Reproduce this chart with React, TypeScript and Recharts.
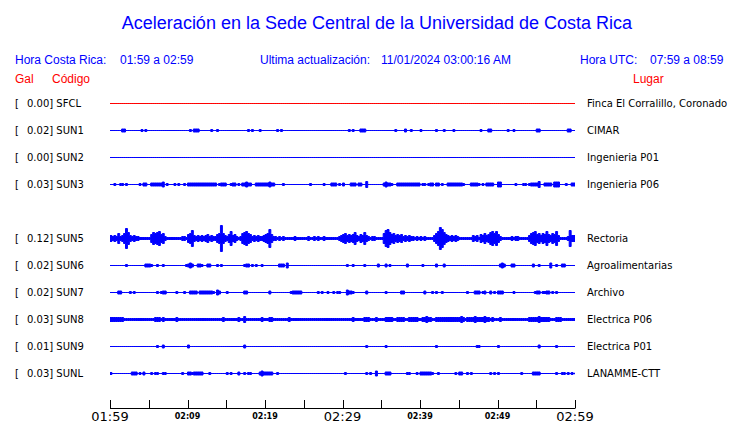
import { ComposedChart, Area, XAxis, YAxis } from "recharts";

// stations, top to bottom (row 4 is empty: SUN4 not reporting)
const CODES = ["SFCL", "SUN1", "SUN2", "SUN3", "SUN5", "SUN6", "SUN7", "SUN8", "SUN9", "SUNL"];
const PEAK_GAL = ["0.00", "0.02", "0.00", "0.03", "0.12", "0.02", "0.02", "0.03", "0.01", "0.03"];
const PLACES = [
  "Finca El Corralillo, Coronado",
  "CIMAR",
  "Ingenieria P01",
  "Ingenieria P06",
  "Rectoria",
  "Agroalimentarias",
  "Archivo",
  "Electrica P06",
  "Electrica P01",
  "LANAMME-CTT",
];
const ROWS = [0, 1, 2, 3, 5, 6, 7, 8, 9, 10];
const TRACE_COLORS = ["#ff0000", "#0000ff", "#0000ff", "#0000ff", "#0000ff", "#0000ff", "#0000ff", "#0000ff", "#0000ff", "#0000ff"];
// continuous noise floor per station (counts)
const NOISE_FLOOR = [0, 0, 0, 0, 1, 0, 0, 1, 0, 0];

const TICK_MINUTES = [0, 5, 10, 15, 20, 25, 30, 35, 40, 45, 50, 55, 60];
const TICK_LABELS = ["01:59", "", "02:09", "", "02:19", "", "02:29", "", "02:39", "", "02:49", "", "02:59"];
const MAJOR_TICKS = [0, 30, 60];

const SAMPLE_STEP = 0.25; // minutes per sample
const COUNTS_PER_ROW = 27;

// Rectoria: half-envelope per 15 s sample (counts)
const SUN5_ENVELOPE = [
  3, 2, 3, 2, 5, 2, 3, 5, 10, 6, 3, 2, 3, 2, 2, 1, 1, 1, 1, 1,
  1, 4, 6, 5, 6, 7, 4, 5, 2, 1, 1, 1, 1, 1, 1, 1, 1, 2, 2, 1,
  4, 5, 8, 3, 2, 3, 2, 3, 2, 3, 4, 2, 3, 2, 2, 4, 5, 13, 5, 3,
  2, 4, 7, 3, 4, 2, 1, 2, 5, 6, 7, 5, 4, 2, 3, 2, 3, 2, 2, 3,
  4, 5, 9, 4, 2, 2, 1, 2, 1, 2, 1, 1, 1, 1, 1, 2, 1, 1, 1, 1,
  1, 1, 2, 1, 1, 2, 1, 2, 1, 1, 2, 1, 1, 1, 1, 1, 1, 1, 2, 3,
  4, 5, 3, 4, 3, 4, 6, 3, 2, 4, 3, 6, 3, 2, 1, 2, 2, 1, 1, 1,
  1, 5, 8, 9, 6, 4, 5, 3, 4, 3, 4, 2, 3, 2, 3, 2, 2, 1, 2, 1,
  2, 1, 2, 1, 1, 1, 1, 3, 5, 7, 11, 9, 6, 4, 3, 2, 3, 2, 3, 2,
  1, 1, 1, 1, 1, 1, 1, 3, 2, 3, 1, 4, 3, 5, 3, 4, 6, 7, 5, 7,
  4, 2, 1, 1, 1, 1, 1, 2, 1, 2, 2, 1, 1, 1, 1, 1, 3, 5, 6, 7,
  4, 5, 3, 5, 4, 7, 4, 3, 5, 4, 7, 3, 1, 1, 1, 1, 2, 8, 3, 3,
  3,
];

// sparse events: [start min, end min, half amplitude counts]
const SUN1_EVENTS = [
  [1.6, 1.9, 1.5], [4.2, 4.2, 1], [4.6, 4.6, 1], [10.3, 10.3, 1], [10.8, 11.3, 1.5], [13.0, 13.0, 1],
  [13.8, 13.8, 1], [17.8, 17.8, 1], [18.3, 18.3, 1], [19.4, 19.4, 1], [21.7, 21.7, 1], [22.1, 22.1, 1],
  [30.8, 30.8, 1], [31.3, 31.3, 1], [32.3, 32.9, 1.5], [36.9, 36.9, 1], [38.0, 38.2, 1.5], [38.9, 38.9, 1],
  [40.0, 40.0, 1], [42.2, 42.2, 1], [43.1, 43.1, 1], [44.3, 44.3, 1], [47.8, 47.8, 1], [48.9, 49.1, 1.5],
  [51.3, 51.3, 1], [52.2, 52.2, 1], [55.2, 55.4, 1.5], [59.0, 59.3, 1.5],
];
const SUN3_EVENTS = [
  [0.55, 0.55, 1], [1.3, 1.3, 1], [1.7, 1.7, 1], [2.15, 2.15, 1], [3.8, 3.8, 1], [4.4, 4.7, 1.5],
  [5.4, 6.7, 1.5], [6.75, 6.75, 2.5], [7.3, 7.3, 1], [8.3, 8.3, 1], [8.8, 8.8, 1], [9.6, 9.6, 1],
  [10.0, 10.6, 1.5], [10.8, 11.5, 1.5], [11.8, 13.5, 1.5], [14.0, 14.0, 1], [14.4, 14.8, 1.5], [15.5, 15.5, 1],
  [15.8, 16.2, 1.5], [16.5, 16.5, 1], [17.2, 18.1, 1.5], [17.6, 17.6, 2.5], [18.9, 19.35, 1.5], [19.65, 21.05, 1.5],
  [20.5, 20.5, 2.5], [22.4, 22.4, 1], [25.8, 25.8, 1], [27.5, 27.5, 1], [28.7, 29.1, 1.5], [29.6, 29.6, 1],
  [30.0, 30.2, 1.5], [31.0, 31.5, 1.5], [32.0, 32.3, 1.5], [33.0, 33.0, 3], [35.3, 36.2, 1.5], [35.7, 35.7, 2.5],
  [36.4, 36.4, 1], [37.0, 38.9, 1.5], [39.2, 39.8, 1.5], [40.3, 40.3, 1], [40.7, 40.7, 1], [41.0, 41.0, 1],
  [41.4, 41.6, 1.5], [42.0, 42.4, 1.5], [42.8, 42.8, 1], [43.7, 45.4, 1.5], [45.7, 45.7, 1], [46.65, 47.3, 1.5],
  [47.6, 47.6, 1], [48.0, 48.0, 1], [48.5, 49.45, 1.5], [50.0, 50.45, 2.5], [52.25, 52.25, 1], [53.3, 53.3, 1],
  [53.6, 53.6, 1], [54.0, 54.0, 1], [54.3, 55.1, 1.5], [55.25, 55.25, 3], [56.0, 56.75, 1.5], [57.3, 57.8, 2.5],
  [58.9, 58.9, 1], [59.7, 60, 1.5],
];
const SUN6_EVENTS = [
  [2.0, 2.0, 1], [4.6, 5.0, 1.5], [5.4, 5.4, 1], [6.1, 6.1, 1], [6.75, 6.75, 1], [9.75, 9.75, 1],
  [10.1, 10.5, 1.5], [10.3, 10.3, 2.5], [11.3, 11.6, 1.5], [11.8, 11.8, 1], [12.6, 12.9, 1.5], [13.9, 13.9, 1],
  [14.4, 14.4, 1], [17.3, 17.3, 1], [17.6, 17.9, 1.5], [18.3, 18.3, 1], [18.8, 18.8, 1], [19.65, 19.65, 1],
  [21.9, 22.3, 1.5], [22.8, 22.8, 2.5], [30.5, 30.5, 1], [31.4, 31.4, 1], [32.9, 32.9, 1], [34.5, 34.5, 1.5],
  [35.6, 35.6, 1.5], [36.0, 36.0, 1], [38.4, 38.4, 1.5], [40.3, 40.3, 1], [42.1, 42.1, 1.5], [43.0, 43.0, 1.5],
  [50.4, 50.9, 1.5], [50.6, 50.6, 2.5], [51.8, 52.0, 1.5], [54.7, 54.7, 1.5], [55.25, 55.25, 1], [56.75, 56.75, 2.5],
  [57.7, 57.7, 1], [58.3, 58.5, 1.5],
];
const SUN7_EVENTS = [
  [1.07, 1.37, 1.5], [2.6, 2.6, 1], [3.0, 3.0, 1], [6.1, 6.1, 1], [6.5, 6.5, 1], [6.75, 7.2, 1.5],
  [8.5, 8.5, 1], [9.5, 9.5, 1], [10.3, 10.5, 1.5], [10.9, 11.2, 1.5], [11.5, 13.1, 1.5], [13.3, 13.3, 1],
  [13.75, 14.1, 1.5], [13.9, 13.9, 2.5], [15.2, 15.2, 1], [17.3, 17.6, 1.5], [20.6, 20.6, 1.5], [23.3, 23.3, 1],
  [23.7, 23.95, 1.5], [24.2, 24.5, 1.5], [24.7, 24.7, 1], [26.75, 26.75, 1], [27.3, 27.3, 1], [28.2, 28.2, 1],
  [28.85, 28.85, 1], [29.4, 29.4, 1], [29.7, 29.7, 1], [30.5, 31.0, 1.5], [30.7, 30.7, 2.5], [31.4, 31.4, 1],
  [33.0, 33.15, 1.5], [35.7, 35.7, 1], [37.5, 37.8, 1.5], [40.5, 40.5, 1.5], [41.7, 41.7, 1], [42.2, 42.2, 1],
  [42.9, 42.9, 1], [46.0, 46.0, 1], [47.1, 47.5, 1.5], [48.0, 48.0, 1], [48.4, 48.4, 1.5], [49.0, 49.0, 1.5],
  [49.6, 49.6, 1], [50.2, 50.5, 1.5], [52.2, 52.2, 1], [54.8, 54.8, 1], [55.1, 55.4, 1.5], [55.8, 55.8, 1],
  [56.2, 56.2, 1], [56.4, 56.7, 1.5], [57.05, 57.05, 1], [57.65, 57.65, 1],
];
const SUN8_EVENTS = [
  [0, 1.5, 2], [5.8, 6.45, 2], [6.75, 6.75, 2], [8.5, 8.5, 2], [14.5, 14.5, 2], [16.5, 16.5, 2],
  [17.3, 17.3, 3], [19.5, 19.5, 2], [20.5, 20.85, 2], [23.2, 23.2, 2], [31.4, 31.4, 2], [32.9, 33.3, 2],
  [34.4, 34.4, 2], [35.5, 36.3, 2], [37.0, 37.8, 2], [38.6, 39.6, 2], [40.4, 41.3, 2], [40.8, 40.8, 3],
  [42.1, 43.6, 2], [43.85, 45.6, 2], [45.3, 45.3, 3], [46.2, 48.8, 2], [47.0, 47.0, 3], [48.3, 48.3, 3],
  [49.25, 49.25, 2], [50.3, 50.3, 2], [54.0, 55.5, 2], [55.25, 55.25, 3], [55.9, 56.55, 2], [57.6, 58.05, 2],
];
const SUN9_EVENTS = [
  [6.2, 6.2, 1], [6.75, 6.75, 1.5], [10.1, 10.1, 1.5], [17.3, 17.3, 1.5], [33.0, 33.0, 1], [35.7, 35.7, 1],
  [42.2, 42.2, 1], [47.3, 47.5, 1], [50.2, 50.2, 1], [55.25, 55.25, 1.5], [57.7, 57.7, 1],
];
const SUNL_EVENTS = [
  [0.2, 0.2, 1], [2.9, 3.3, 1.5], [3.85, 3.85, 1], [4.4, 4.4, 1.5], [5.3, 5.3, 1], [5.8, 5.8, 1],
  [6.2, 6.2, 1], [6.75, 6.75, 1], [7.2, 7.2, 1], [9.3, 9.3, 1], [10.1, 10.3, 1.5], [10.6, 10.7, 1],
  [10.9, 11.8, 1.5], [12.9, 12.9, 1], [15.1, 15.1, 1], [15.7, 15.7, 1], [16.5, 16.5, 1.5], [17.3, 17.3, 1],
  [17.75, 17.75, 1], [18.1, 18.1, 1], [19.35, 20.0, 1.5], [19.6, 19.6, 2.5], [20.4, 20.8, 1.5], [21.6, 21.6, 1],
  [30.4, 30.4, 1], [33.1, 33.1, 1], [33.6, 33.6, 1], [34.4, 34.4, 2.5], [35.7, 36.1, 1.5], [38.3, 38.6, 1],
  [39.5, 39.5, 1], [40.2, 41.3, 1.5], [41.7, 41.7, 1], [42.35, 42.35, 1], [44.7, 44.7, 1], [45.1, 45.45, 1.5],
  [46.0, 46.0, 1], [46.6, 46.6, 1], [49.0, 49.0, 1], [49.7, 49.7, 1], [50.2, 50.2, 1], [53.1, 53.1, 1],
  [54.6, 55.25, 1.5], [57.6, 57.6, 1], [58.3, 58.3, 1], [58.7, 58.7, 1], [59.15, 59.15, 1], [59.55, 59.55, 1],
  [60, 60, 1],
];

const EVENTS: Record<string, number[][]> = {
  SFCL: [],
  SUN1: SUN1_EVENTS,
  SUN2: [],
  SUN3: SUN3_EVENTS,
  SUN6: SUN6_EVENTS,
  SUN7: SUN7_EVENTS,
  SUN8: SUN8_EVENTS,
  SUN9: SUN9_EVENTS,
  SUNL: SUNL_EVENTS,
};

const N = SUN5_ENVELOPE.length;

function envelope(code: string, floor: number) {
  if (code === "SUN5") return SUN5_ENVELOPE;
  const amps = new Array(N).fill(floor);
  for (const [s, e, a] of EVENTS[code]) {
    const last = Math.min(N - 1, Math.floor(e / SAMPLE_STEP));
    for (let i = Math.floor(s / SAMPLE_STEP); i <= last; i++) amps[i] = Math.max(amps[i], a);
  }
  return amps;
}

const envelopes = CODES.map((c, k) => envelope(c, NOISE_FLOOR[k]));

const data = SUN5_ENVELOPE.map((_, i) => {
  const row: Record<string, any> = { t: i * SAMPLE_STEP };
  CODES.forEach((c, k) => {
    const a = envelopes[k][i] / COUNTS_PER_ROW;
    row[c] = [ROWS[k] - a, ROWS[k] + a];
  });
  return row;
});

const BLUE = "#0000ff";
const RED = "#ff0000";
const SANS = "'Liberation Sans', Arial, sans-serif";
const DEJAVU = "'DejaVu Sans', sans-serif";

function RowLabel(props: any) {
  const { y, payload } = props;
  const k = ROWS.indexOf(payload.value);
  if (k < 0) return null;
  return (
    <g fontFamily={DEJAVU} fontSize={10} fill="#000">
      <text x={15} y={y} dominantBaseline="central">[</text>
      <text x={27} y={y} dominantBaseline="central">{`${PEAK_GAL[k]}] ${CODES[k]}`}</text>
      <text x={587} y={y} dominantBaseline="central">{PLACES[k]}</text>
    </g>
  );
}

function TimeTick(props: any) {
  const { x, y, payload, index } = props;
  const px = Math.round(x) + 0.5;
  const major = MAJOR_TICKS.includes(payload.value);
  return (
    <g>
      <line x1={px} x2={px} y1={y} y2={y - 8.5} stroke="#000" />
      {major ? (
        <text x={x} y={y + 12.5} textAnchor="middle" fontFamily={DEJAVU} fontSize={13} fill="#000">
          {TICK_LABELS[index]}
        </text>
      ) : (
        <text x={x} y={y + 10} textAnchor="middle" fontFamily={DEJAVU} fontSize={8} fontWeight="bold" fill="#000">
          {TICK_LABELS[index]}
        </text>
      )}
    </g>
  );
}

export default function App() {
  return (
    <div style={{ position: "relative", width: 740, height: 423, background: "#fff" }}>
      <style>{"body{margin:0}"}</style>
      <ComposedChart
        width={740}
        height={423}
        data={data}
        margin={{ top: 76.5, right: 165, bottom: 0, left: 0 }}
      >
        <XAxis
          type="number"
          dataKey="t"
          domain={[0, 60]}
          ticks={TICK_MINUTES}
          interval={0}
          height={14.5}
          tickSize={0}
          tickMargin={0}
          tickLine={false}
          axisLine={{ stroke: "#000" }}
          tick={<TimeTick />}
          allowDataOverflow
        />
        <YAxis
          type="number"
          reversed
          domain={[-1, 332 / 27 - 1]}
          ticks={ROWS}
          interval={0}
          width={110}
          axisLine={false}
          tickLine={false}
          tick={<RowLabel />}
          allowDataOverflow
        />
        {CODES.map((c, k) => (
          <Area
            key={c}
            dataKey={c}
            type="stepAfter"
            stroke={TRACE_COLORS[k]}
            strokeWidth={1}
            fill={TRACE_COLORS[k]}
            fillOpacity={1}
            dot={false}
            activeDot={false}
            isAnimationActive={false}
          />
        ))}
      </ComposedChart>
      <svg
        width={740}
        height={100}
        style={{ position: "absolute", left: 0, top: 0, pointerEvents: "none" }}
      >
        <g fontFamily={SANS}>
          <text x={377} y={28.5} textAnchor="middle" fontSize={18} fill={BLUE}>
            Aceleración en la Sede Central de la Universidad de Costa Rica
          </text>
          <g fontSize={12} fill={BLUE}>
            <text x={15} y={64}>Hora Costa Rica:</text>
            <text x={120} y={64}>01:59 a 02:59</text>
            <text x={260} y={64}>Ultima actualización:</text>
            <text x={381} y={64}>11/01/2024 03:00:16 AM</text>
            <text x={580} y={64}>Hora UTC:</text>
            <text x={650} y={64}>07:59 a 08:59</text>
          </g>
          <g fontSize={12} fill={RED}>
            <text x={15} y={83}>Gal</text>
            <text x={52} y={83}>Código</text>
            <text x={633} y={83}>Lugar</text>
          </g>
        </g>
      </svg>
    </div>
  );
}
